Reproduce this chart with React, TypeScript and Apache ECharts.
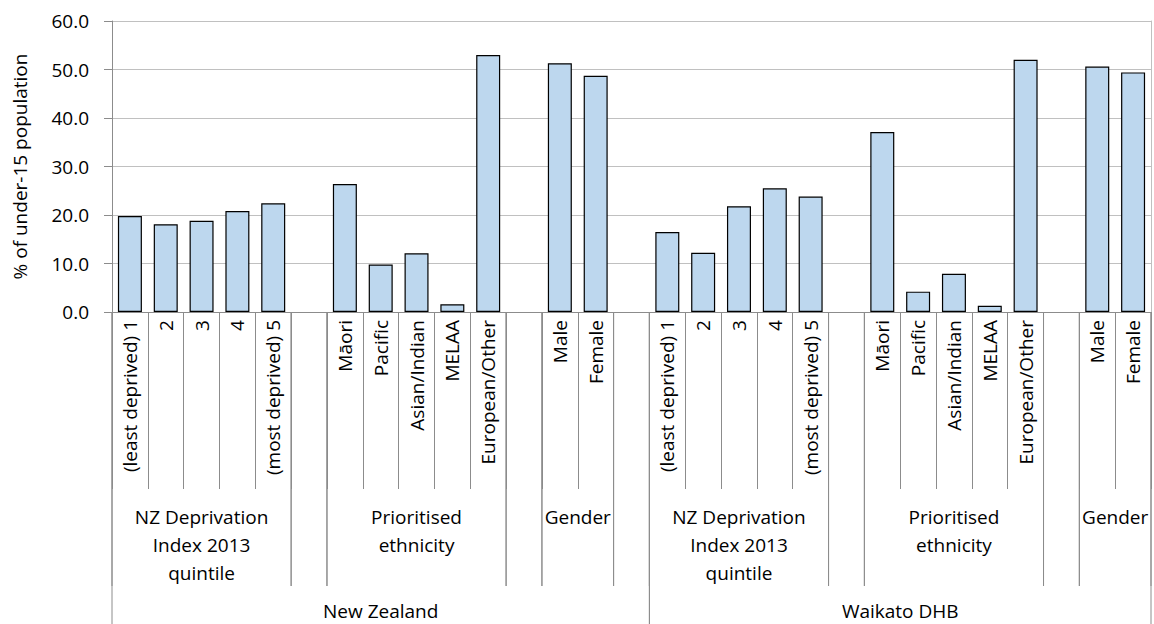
import React, { useEffect, useRef } from "react";
import * as echarts from "echarts";

const categories = [
  "(least deprived) 1", "2", "3", "4", "(most deprived) 5", "",
  "Māori", "Pacific", "Asian/Indian", "MELAA", "European/Other", "",
  "Male", "Female", "",
  "(least deprived) 1", "2", "3", "4", "(most deprived) 5", "",
  "Māori", "Pacific", "Asian/Indian", "MELAA", "European/Other", "",
  "Male", "Female",
];

const values = [
  19.8, 18.1, 18.8, 20.8, 22.4, null,
  26.4, 9.8, 12.1, 1.6, 53.0, null,
  51.3, 48.7, null,
  16.5, 12.2, 21.8, 25.5, 23.8, null,
  37.1, 4.2, 7.9, 1.3, 52.0, null,
  50.6, 49.4,
];

const groupLabels = [
  "NZ Deprivation\nIndex 2013\nquintile", "", "Prioritised\nethnicity", "", "Gender", "",
  "NZ Deprivation\nIndex 2013\nquintile", "", "Prioritised\nethnicity", "", "Gender",
];
const groupStarts = [0, 5, 6, 11, 12, 14, 15, 20, 21, 26, 27];
const groupEnds = [4, 5, 10, 11, 13, 14, 19, 20, 25, 26, 28];

const regionLabels = ["New Zealand", "Waikato DHB"];
const regionStarts = [0, 15];
const regionEnds = [14, 28];

const yMin = 0;
const yMax = 60;
const yStep = 10;

const FONT = "'Open Sans', 'Noto Sans', sans-serif";
const GREY = "#8c8c8c";

export default function App() {
  const ref = useRef<HTMLDivElement>(null);

  useEffect(() => {
    if (!ref.current) return;
    const chart = echarts.init(ref.current, null, { renderer: "svg" });

    const groupItems = groupStarts.map((s, i) => [s, groupEnds[i], 2]);
    const regionItems = regionStarts.map((s, i) => [s, regionEnds[i], 3]);
    const allLabels = [...groupLabels, ...regionLabels];

    const option: any = {
      animation: false,
      textStyle: { fontFamily: FONT },
      grid: { left: 112, right: 3, top: 21, bottom: 312, containLabel: false },
      xAxis: {
        type: "category",
        data: categories,
        axisLine: { show: true, lineStyle: { color: GREY, width: 1 } },
        axisTick: {
          show: true,
          alignWithLabel: false,
          interval: 0,
          length: 177,
          lineStyle: { color: GREY, width: 1 },
        },
        axisLabel: {
          interval: 0,
          rotate: 90,
          margin: 8,
          fontSize: 19,
          color: "#000",
          fontFamily: FONT,
        },
        splitLine: { show: false },
      },
      yAxis: [
        {
          type: "value",
          min: yMin,
          max: yMax,
          interval: yStep,
          name: "% of under-15 population",
          nameLocation: "middle",
          nameGap: 83,
          nameTextStyle: { fontSize: 19, color: "#000", fontFamily: FONT },
          axisLine: { show: true, lineStyle: { color: GREY, width: 1 } },
          axisTick: { show: true, length: 8, lineStyle: { color: GREY } },
          axisLabel: {
            margin: 23,
            fontSize: 19,
            color: "#000",
            fontFamily: FONT,
            formatter: (v: number) => v.toFixed(1),
          },
          splitLine: { show: true, lineStyle: { color: "#c0c0c0", width: 1 } },
        },
        {
          type: "value",
          position: "right",
          min: yMin,
          max: yMax,
          interval: yStep,
          axisLine: { show: true, lineStyle: { color: "#c0c0c0", width: 1 } },
          axisTick: { show: false },
          axisLabel: { show: false },
          splitLine: { show: false },
        },
      ],
      series: [
        {
          type: "bar",
          data: values,
          barWidth: 24,
          itemStyle: { color: "#bdd7ee", borderColor: "#000", borderWidth: 1.2 },
          silent: true,
        },
        {
          type: "custom",
          silent: true,
          clip: false,
          data: [...groupItems, ...regionItems],
          renderItem: (params: any, api: any) => {
            const s = api.value(0);
            const e = api.value(1);
            const lvl = api.value(2);
            const band = api.size([1, 0])[0];
            const axisY = api.coord([0, 0])[1];
            const x0 = api.coord([s, 0])[0] - band / 2;
            const x1 = api.coord([e, 0])[0] + band / 2;
            const cx = (x0 + x1) / 2;
            const text = allLabels[params.dataIndex];
            const bottom = lvl === 2 ? axisY + 274 : axisY + 330;
            const ls = { stroke: GREY, lineWidth: 1 };
            const children: any[] = [
              { type: "line", shape: { x1: x0, y1: axisY, x2: x0, y2: bottom }, style: ls },
              { type: "line", shape: { x1: x1, y1: axisY, x2: x1, y2: bottom }, style: ls },
            ];
            if (text) {
              children.push({
                type: "text",
                x: cx,
                y: lvl === 2 ? axisY + 191 : axisY + 299,
                style: {
                  text,
                  fill: "#000",
                  fontSize: 19,
                  fontFamily: FONT,
                  lineHeight: lvl === 2 ? 28 : 20,
                  align: "center",
                  textAlign: "center",
                  verticalAlign: lvl === 2 ? "top" : "middle",
                  textVerticalAlign: lvl === 2 ? "top" : "middle",
                },
              });
            }
            return { type: "group", children };
          },
        },
      ],
    };

    chart.setOption(option);
    return () => chart.dispose();
  }, []);

  return (
    <div
      ref={ref}
      style={{ position: "absolute", left: 0, top: 0, width: 1154, height: 624, background: "#fff" }}
    />
  );
}
